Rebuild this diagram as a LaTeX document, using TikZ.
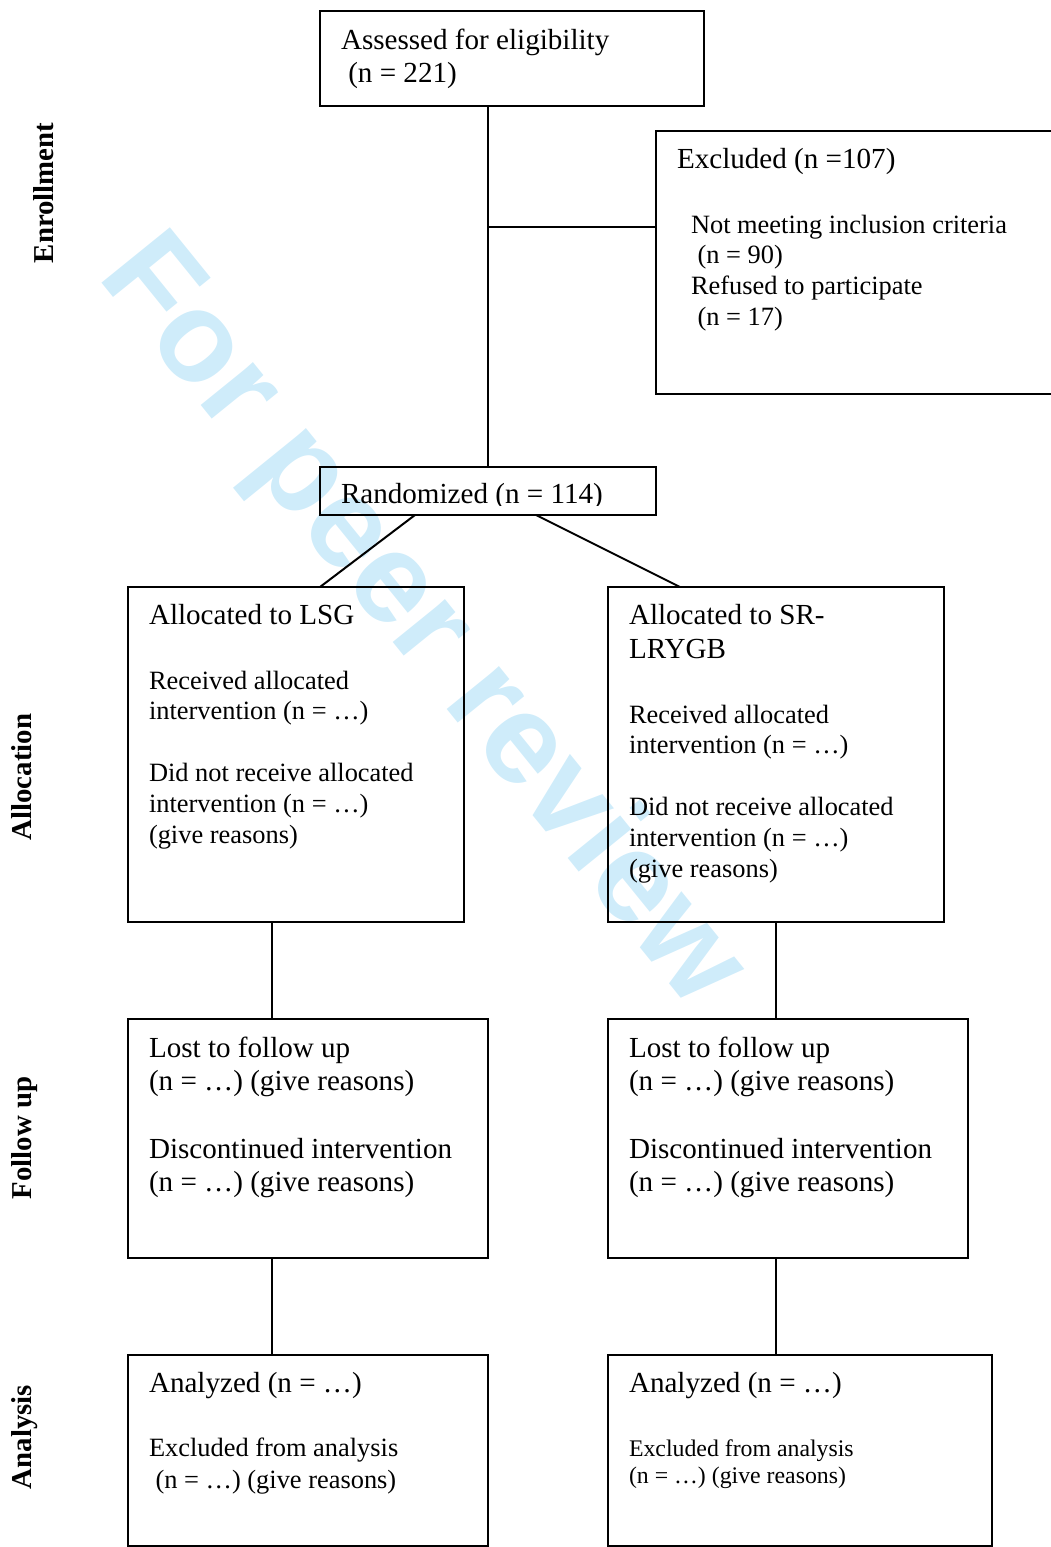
\documentclass[tikz,border=0pt]{standalone}
\usepackage{fontspec}
\setmainfont{Liberation Serif}
\newfontfamily\wmfont{Liberation Sans}
\usetikzlibrary{positioning}
\definecolor{wmblue}{RGB}{207,236,250}

\begin{document}
\begin{tikzpicture}[x=0.5pt, y=-0.5pt, line width=1pt,
    box/.style={draw, anchor=north west, inner sep=0pt, outer sep=0pt},
    txt/.style={anchor=base west, inner sep=0pt, align=flush left, text width=190pt},
    bigtxt/.style={font=\fontsize{14.55pt}{16.9pt}\selectfont},
    smalltxt/.style={font=\fontsize{13.2pt}{15.4pt}\selectfont},
    tinytxt/.style={font=\fontsize{11.9pt}{13.9pt}\selectfont},
    phase/.style={font=\fontsize{14.4pt}{17pt}\selectfont\bfseries, rotate=90, anchor=base, inner sep=0pt},
    wmark/.style={font={\wmfont\bfseries\fontsize{64pt}{70pt}\selectfont}, text=wmblue, rotate=-51, anchor=base west, inner sep=0pt}]
    \useasboundingbox (0,0) rectangle (1050,1547);

    % watermark behind everything
    \node[wmark] (wm) at (96,276) {For peer review};

    % Enrollment
    \node[box, minimum width=192pt, minimum height=47.5pt] (elig) at (320,11) {};
    \node[txt, bigtxt, font=\fontsize{14.55pt}{16.5pt}\selectfont] (eligtxt) at ([shift={(20,38)}]elig.north west) {Assessed for eligibility\\\ (n = 221)};
    \node[box, minimum width=210pt, minimum height=131.5pt] (excl) at (656,131) {};
    \node[txt, bigtxt] (excltxt) at ([shift={(20,37)}]excl.north west) {Excluded (n =107)};
    \node[txt, smalltxt] (exclwhy) at ([shift={(34,102)}]excl.north west) {Not meeting inclusion criteria\\\ (n = 90)\\Refused to participate\\\ (n = 17)};
    \node[box, minimum width=168pt, minimum height=24pt] (rand) at (320,467) {};
    \begin{scope}
        \clip (rand.north west) rectangle ([yshift=5pt]rand.south east);
        \node[txt, bigtxt] (randtxt) at ([shift={(20,36)}]rand.north west) {Randomized (n = 114)};
    \end{scope}

    % Allocation
    \node[box, minimum width=168pt, minimum height=167.5pt] (lsg) at (128,587) {};
    \node[box, minimum width=168pt, minimum height=167.5pt, right=72pt of lsg.north east, anchor=north west] (lrygb) {};
    \node[txt, bigtxt] (lsgtitle) at ([shift={(20,37)}]lsg.north west) {Allocated to LSG};
    \node[txt, smalltxt] (lsgtxt) at ([shift={(20,102)}]lsg.north west) {Received allocated\\intervention (n = …)\\[15.4pt]Did not receive allocated\\intervention (n = …)\\(give reasons)};
    \node[txt, bigtxt, font=\fontsize{14.55pt}{17pt}\selectfont] (lrygbtitle) at ([shift={(20,37)}]lrygb.north west) {Allocated to SR-\\LRYGB};
    \node[txt, smalltxt] (lrygbtxt) at ([shift={(20,136)}]lrygb.north west) {Received allocated\\intervention (n = …)\\[15.6pt]Did not receive allocated\\intervention (n = …)\\(give reasons)};

    % Follow up
    \node[box, minimum width=180pt, minimum height=119.5pt, below=48.5pt of lsg.south west, anchor=north west] (fuL) {};
    \node[box, minimum width=180pt, minimum height=119.5pt, below=48.5pt of lrygb.south west, anchor=north west] (fuR) {};
    \node[txt, bigtxt] (fuLtxt) at ([shift={(20,38)}]fuL.north west) {Lost to follow up\\(n = …) (give reasons)\\[16.7pt]Discontinued intervention\\(n = …) (give reasons)};
    \node[txt, bigtxt] (fuRtxt) at ([shift={(20,38)}]fuR.north west) {Lost to follow up\\(n = …) (give reasons)\\[16.7pt]Discontinued intervention\\(n = …) (give reasons)};

    % Analysis
    \node[box, minimum width=180pt, minimum height=95.5pt, below=48.5pt of fuL.south west, anchor=north west] (anL) {};
    \node[box, minimum width=192pt, minimum height=95.5pt, below=48.5pt of fuR.south west, anchor=north west] (anR) {};
    \node[txt, bigtxt] (anLtitle) at ([shift={(20,37)}]anL.north west) {Analyzed (n = …)};
    \node[txt, smalltxt, font=\fontsize{13.2pt}{16pt}\selectfont] (anLtxt) at ([shift={(20,101)}]anL.north west) {Excluded from analysis\\\ (n = …) (give reasons)};
    \node[txt, bigtxt] (anRtitle) at ([shift={(20,37)}]anR.north west) {Analyzed (n = …)};
    \node[txt, tinytxt] (anRtxt) at ([shift={(20,101)}]anR.north west) {Excluded from analysis\\(n = …) (give reasons)};

    % phase labels
    \node[phase] (enrol) at (54,193) {Enrollment};
    \node[phase] (alloc) at (32,777) {Allocation};
    \node[phase] (follow) at (32,1138) {Follow up};
    \node[phase] (analys) at (32,1437) {Analysis};

    % connectors
    \coordinate (split) at (488,227);
    \draw (elig.south -| rand.north) -- (rand.north);
    \draw (split) -- (split -| excl.west);
    \draw ([xshift=-36.5pt]rand.south) -- ([xshift=12pt]lsg.north);
    \draw ([xshift=24pt]rand.south) -- ([xshift=-48pt]lrygb.north);
    \draw ([xshift=-12pt]lsg.south) -- ([xshift=-12pt]lsg.south |- fuL.north);
    \draw (lrygb.south) -- (lrygb.south |- fuR.north);
    \draw ([xshift=-18pt]fuL.south) -- ([xshift=-18pt]fuL.south |- anL.north);
    \draw ([xshift=-6pt]fuR.south) -- ([xshift=-6pt]fuR.south |- anR.north);
\end{tikzpicture}
\end{document}
